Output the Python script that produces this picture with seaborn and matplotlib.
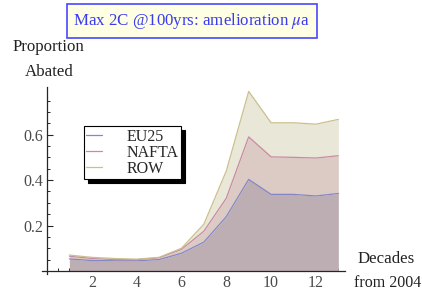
import numpy as np
import pandas as pd
import matplotlib

matplotlib.use("Agg")
import matplotlib.pyplot as plt
import seaborn as sns
from matplotlib.ticker import FixedLocator

# =========================
# Data (curve heights)
# =========================
decades = [1, 2, 3, 4, 5, 6, 7, 8, 9, 10, 11, 12, 13]
eu25 = [0.053, 0.046, 0.045, 0.045, 0.050, 0.078, 0.127, 0.239, 0.403, 0.337, 0.337, 0.330, 0.341]
nafta = [0.065, 0.055, 0.050, 0.050, 0.058, 0.095, 0.175, 0.320, 0.590, 0.502, 0.500, 0.497, 0.507]
row = [0.070, 0.060, 0.055, 0.052, 0.060, 0.100, 0.206, 0.440, 0.790, 0.652, 0.652, 0.646, 0.667]
regions = ["EU25", "NAFTA", "ROW"]

line_colors = ["#8686c6", "#c98aa2", "#cbbf8c"]
fill_colors = ["#bcaeb2", "#dccbc5", "#e9e7d8"]

df = pd.DataFrame({"decade": decades, "EU25": eu25, "NAFTA": nafta, "ROW": row})
long_df = df.melt(id_vars="decade", var_name="region", value_name="share")

# =========================
# Style
# =========================
sns.set_style("ticks")
plt.rcParams["font.family"] = ["Liberation Serif", "DejaVu Serif"]
plt.rcParams["mathtext.fontset"] = "stix"

fig = plt.figure(figsize=(4.22, 2.93), dpi=100)
ax = fig.add_axes([0.1007, 0.0635, 0.717, 0.64])

# --- filled bands ---
ax.fill_between(df["decade"], 0, df["EU25"], color=fill_colors[0], lw=0, zorder=1)
ax.fill_between(df["decade"], df["EU25"], df["NAFTA"], color=fill_colors[1], lw=0, zorder=1)
ax.fill_between(df["decade"], df["NAFTA"], df["ROW"], color=fill_colors[2], lw=0, zorder=1)

# --- lines ---
sns.lineplot(
    data=long_df,
    x="decade",
    y="share",
    hue="region",
    hue_order=regions,
    palette=line_colors,
    linewidth=0.9,
    ax=ax,
    zorder=2,
)

# --- axes through origin ---
ax.set_xlim(-0.2, 13.3)
ax.set_ylim(-0.015, 0.81)
for side in ["top", "right"]:
    ax.spines[side].set_visible(False)
ax.spines["left"].set_position(("data", 0))
ax.spines["bottom"].set_position(("data", 0))
ax.spines["left"].set_linewidth(0.9)
ax.spines["bottom"].set_linewidth(0.9)

ax.xaxis.set_major_locator(FixedLocator([2, 4, 6, 8, 10, 12]))
ax.xaxis.set_minor_locator(FixedLocator([v * 0.5 for v in range(1, 27) if v % 4 != 0]))
ax.yaxis.set_major_locator(FixedLocator([0.2, 0.4, 0.6]))
ax.yaxis.set_minor_locator(FixedLocator([v * 0.05 for v in range(1, 17) if v % 4 != 0]))
ax.tick_params(which="major", direction="in", length=4, width=0.8, labelsize=11.5,
               labelcolor="#4a4a4a", pad=3)
ax.tick_params(which="minor", direction="in", length=2.5, width=0.7)
ax.set_xlabel("")
ax.set_ylabel("")

# --- legend with hard shadow ---
leg = ax.legend(
    loc="upper left",
    bbox_to_anchor=(0.137, 0.79),
    borderaxespad=0,
    fontsize=11.5,
    frameon=True,
    fancybox=False,
    shadow={"ox": 3, "oy": -3, "color": "black", "alpha": 1},
    edgecolor="black",
    framealpha=1,
    handlelength=1.0,
    handletextpad=1.5,
    labelspacing=0.0,
    borderpad=0.15,
)
leg.get_frame().set_linewidth(0.8)
for line in leg.get_lines():
    line.set_linewidth(0.9)

# --- axis labels, Mathematica style ---
fig.text(13 / 422, 0.84, "Proportion", fontsize=12.2, va="center", ha="left", color="#222")
fig.text(25 / 422, 0.754, "Abated", fontsize=12.2, va="center", ha="left", color="#222")
fig.text(386 / 422, 0.116, "Decades", fontsize=12.2, va="center", ha="center", color="#222")
fig.text(388 / 422, 0.034, "from 2004", fontsize=11.5, va="center", ha="center", color="#222")

# --- boxed title ---
fig.text(
    192 / 422,
    1 - 21 / 293,
    r"Max 2C @100yrs: amelioration $\mu$a",
    fontsize=12.2,
    color="#3a3af0",
    ha="center",
    va="center",
    bbox=dict(boxstyle="square,pad=0.4", facecolor="#ffffe4", edgecolor="#4848ff", linewidth=1.2),
)

fig.savefig("out.png", dpi=100)
